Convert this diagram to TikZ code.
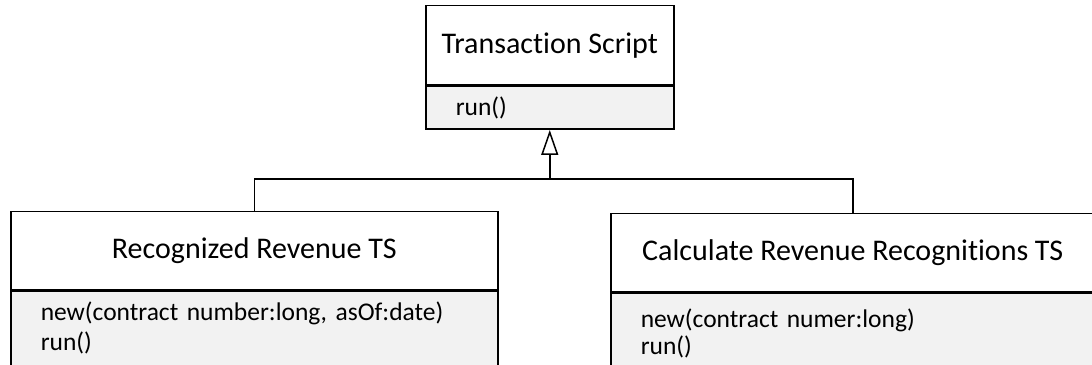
\documentclass[tikz,border=0pt]{standalone}
\usepackage{fontspec}
\setmainfont{Carlito}[Ligatures=NoCommon]
\usepackage{xcolor}
\usepackage{tikz}
\usetikzlibrary{arrows.meta, positioning}
\definecolor{opsgray}{RGB}{242,242,242}

\begin{document}
\begin{tikzpicture}[x=1pt, y=1pt,
  umlline/.style={line width=1.5pt},
  classname/.style={draw, umlline, fill=white, inner sep=0pt, anchor=north west, font=\fontsize{30}{34}\selectfont},
  classops/.style={draw, umlline, fill=opsgray, inner xsep=30pt, inner ysep=0pt, align=left, font=\fontsize{25.5}{30}\selectfont}]
\useasboundingbox (0,0) rectangle (1092,364);

% Classes
\node[classname, minimum width=248, minimum height=79] (ts) at (425,359) {Transaction Script};
\node[classops, below=0pt of ts, text width=188pt, minimum height=43] (tsops) {run()};

\node[classname, minimum width=487, minimum height=78] (rrts) at (10,153) {Recognized Revenue TS};
\node[classops, below=0pt of rrts, text width=427pt, minimum height=74] (rrtsops) {new(contract number:long, asOf:date)\\run()};

\node[classname, minimum width=484, minimum height=78] (crrts) at (610,151) {Calculate Revenue Recognitions TS};
\node[classops, below=0pt of crrts, text width=424pt, minimum height=80] (crrtsops) {new(contract numer:long)\\[-3pt]run()};

% Generalization
\coordinate (joint) at ([yshift=-49pt]tsops.south);
\draw[umlline] (rrts.north) |- (joint) -| (crrts.north);
\draw[umlline, -{Triangle[open, length=25pt, width=17pt]}] (joint) -- (tsops.south);
\end{tikzpicture}
\end{document}
